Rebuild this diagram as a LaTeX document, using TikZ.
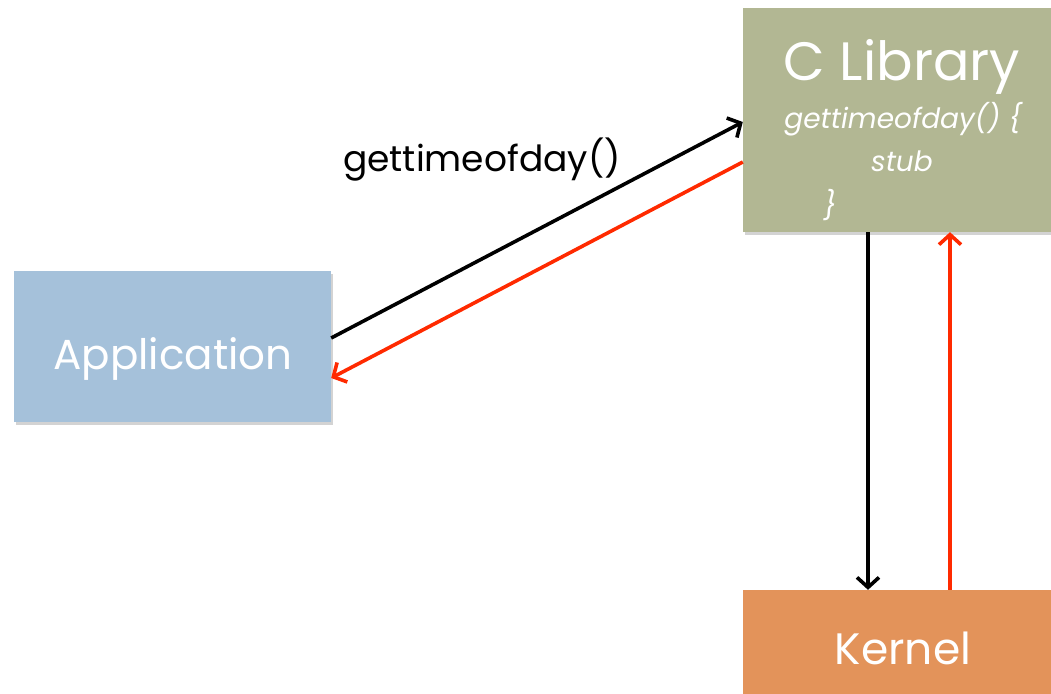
\documentclass[tikz,border=0pt]{standalone}
\usepackage{fontspec}
\setmainfont{Poppins}
\usetikzlibrary{arrows.meta,shadows}
\definecolor{appblue}{HTML}{A5C1DA}
\definecolor{libgreen}{HTML}{B2B793}
\definecolor{kernorange}{HTML}{E3935A}
\definecolor{retred}{HTML}{FF2A00}
\tikzset{
  box/.style={rectangle, draw=none, inner sep=0pt,
    drop shadow={shadow xshift=2pt, shadow yshift=-3pt, opacity=0.35}},
  wtext/.style={text=white, inner sep=0pt, anchor=base},
  conn/.style={line width=3.6pt, -{Straight Barb[length=10pt,width=22pt]}},
}
\begin{document}
\begin{tikzpicture}[x=1pt,y=-1pt]
\useasboundingbox (0,0) rectangle (1051,693);
\clip (0,0) rectangle (1051,693);
\node[box, fill=appblue, minimum width=317pt, minimum height=151pt] (app) at (172.5,346.5) {};
\node[box, fill=libgreen, minimum width=320pt, minimum height=224pt] (clib) at (903,120) {};
\node[box, fill=kernorange, minimum width=320pt, minimum height=120pt] (kern) at (903,650) {};
\node[wtext, font=\fontsize{42}{46}\selectfont] (apptxt) at (173,369) {Application};
\node[wtext, font=\fontsize{54}{58}\selectfont] (libtxt) at (902,80) {C Library};
\node[wtext, font=\fontsize{28}{32}\itshape] (libl1) at (903,128) {gettimeofday() \{};
\node[wtext, font=\fontsize{28}{32}\itshape] (libl2) at (902,171) {stub};
\node[wtext, font=\fontsize{28}{32}\itshape] (libl3) at (830,215) {\}};
\node[wtext, font=\fontsize{44}{48}\selectfont] (kerntxt) at (903,664) {Kernel};
\node[inner sep=0pt, anchor=base, font=\fontsize{36}{40}\selectfont] (lbl) at (482,171) {gettimeofday()};
\draw[conn, black] ([yshift=8.5pt]app.east) -- ([yshift=-2pt]clib.west);
\draw[conn, retred] ([yshift=-42pt]clib.west) -- ([yshift=-31.5pt]app.east);
\draw[conn, black] ([xshift=-35pt]clib.south) -- ([xshift=-35pt]kern.north);
\draw[conn, retred] ([xshift=47pt]kern.north) -- ([xshift=47pt]clib.south);
\end{tikzpicture}
\end{document}
